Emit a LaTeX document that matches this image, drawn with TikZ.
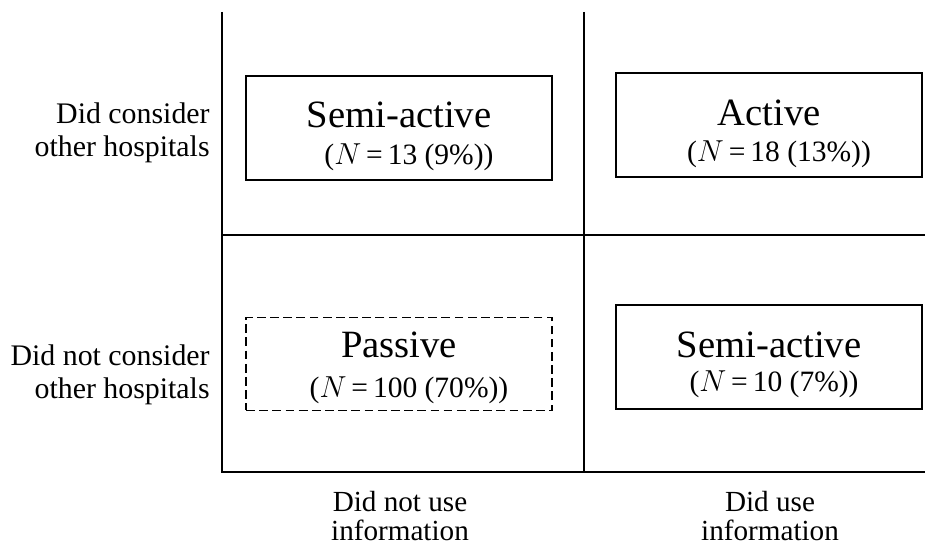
\documentclass[tikz,border=0pt]{standalone}
\usepackage{fontspec}
\setmainfont{Liberation Serif}
\usetikzlibrary{positioning}
\tikzstyle{group} = [rectangle, minimum width=6.12cm, minimum height=2.08cm, draw=black, line width=0.8pt]
\tikzstyle{passivegroup} = [group, minimum height=1.86cm, dashed, dash pattern=on 5pt off 2.5pt]
\tikzstyle{title} = [font=\fontsize{22}{25}\selectfont, inner sep=0pt, anchor=base]
\tikzstyle{count} = [font=\fontsize{16.8}{19}\selectfont, inner sep=0pt, anchor=base]
\tikzstyle{rowlabel} = [align=right, anchor=east, font=\fontsize{17}{18.7}\selectfont, inner sep=0pt]
\tikzstyle{collabel} = [align=center, font=\fontsize{16.6}{16}\selectfont, inner sep=0pt]
\tikzstyle{axis} = [line width=0.8pt]

\begin{document}
\begin{tikzpicture}[x=0.02cm, y=-0.02cm]
\useasboundingbox (0,0) rectangle (925,544);
% axes
\coordinate (top) at (222,12);
\coordinate (origin) at (222,472);
\coordinate (midtop) at (584,12);
\coordinate (midbot) at (584,472);
\coordinate (midleft) at (222,235);
\coordinate (midright) at (925,235);
\coordinate (right) at (925,472);
\draw[axis] (top) -- (origin) -- (right);
\draw[axis] (midtop) -- (midbot);
\draw[axis] (midleft) -- (midright);

% quadrants
\node (semi1) [group] at (399,128) {};
\node (active) [group] at (769,125) {};
\node (passive) [passivegroup] at (399,364) {};
\node (semi2) [group] at (769,357) {};

\node (semi1t) [title] at ([yshift=0.02cm]semi1.center) {Semi-active};
\node (semi1n) [count] at ([xshift=0.2cm, yshift=-0.74cm]semi1.center) {($N$\,=\,13 (9\%))};
\node (activet) [title] at (active.center) {Active};
\node (activen) [count] at ([xshift=0.2cm, yshift=-0.74cm]active.center) {($N$\,=\,18 (13\%))};
\node (passivet) [title] at ([yshift=0.13cm]passive.center) {Passive};
\node (passiven) [count] at ([xshift=0.2cm, yshift=-0.68cm]passive.center) {($N$\,=\,100 (70\%))};
\node (semi2t) [title] at (semi2.center) {Semi-active};
\node (semi2n) [count] at ([xshift=0.1cm, yshift=-0.7cm]semi2.center) {($N$\,=\,10 (7\%))};

% labels
\node (consider) [rowlabel] at (210,133) {Did consider\\other hospitals};
\node (notconsider) [rowlabel] at (210,375) {Did not consider\\other hospitals};
\node (notuse) [collabel] at (400,516) {Did not use\\information};
\node (use) [collabel] at (770,516) {Did use\\information};
\end{tikzpicture}
\end{document}
